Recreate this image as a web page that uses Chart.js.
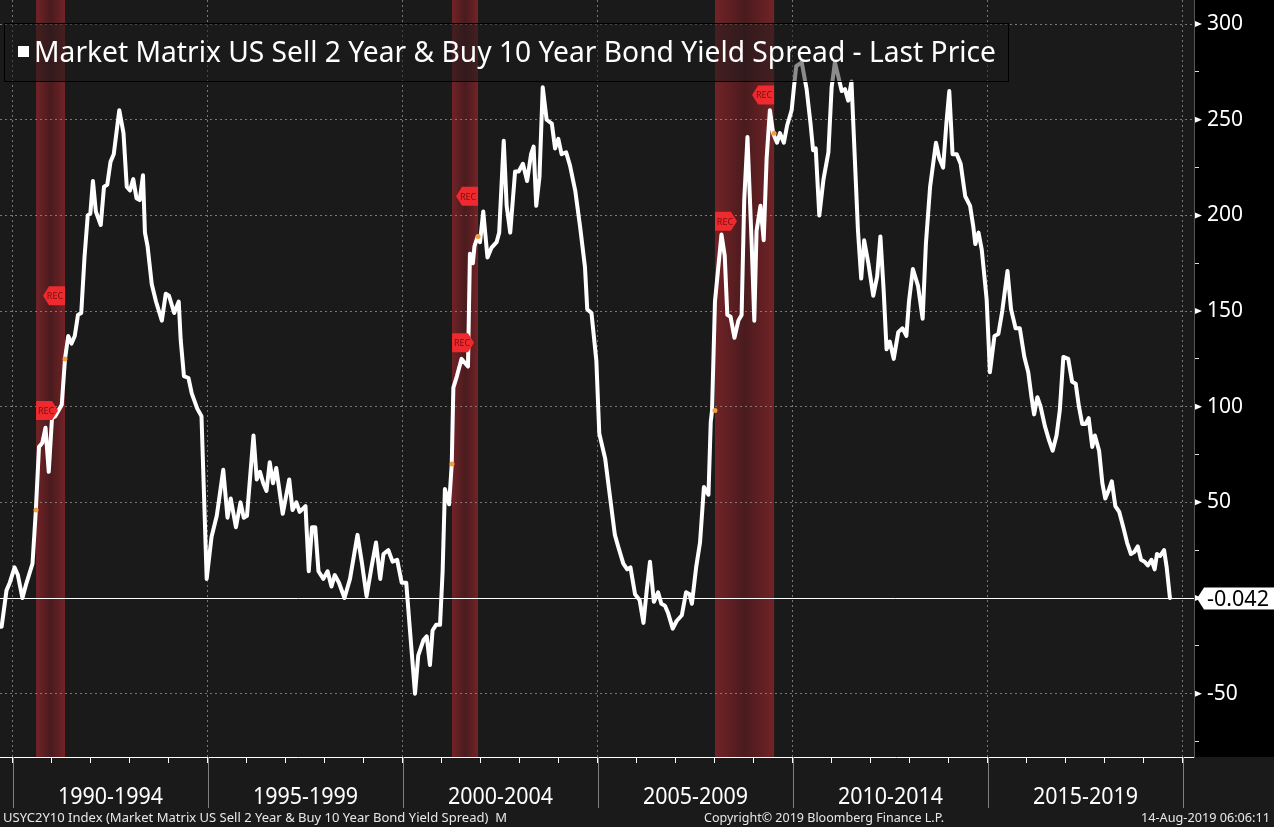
<!DOCTYPE html>
<html>
<head>
<meta charset="utf-8">
<script src="https://cdn.jsdelivr.net/npm/chart.js@4.4.1/dist/chart.umd.min.js"></script>
<style>
  html, body { margin: 0; padding: 0; background: #1a1a1a; }
  canvas { display: block; }
</style>
</head>
<body>
<canvas id="myChart" width="1274" height="827"></canvas>
<script>
// x = months counted from Jan 1990 (0 = Jan 1990)
const months = [
  -4, -3.5, -2, -1, 0.5, 1.5, 2.9, 4, 6, 7,
  8, 9, 10, 11, 12, 13, 14, 15, 16, 17,
  18, 19, 20, 21, 22, 23, 23.8, 24.6, 25.5, 27,
  28, 29, 30, 31, 32.7, 34, 35, 36, 37, 38,
  39, 40, 40.6, 41.4, 42.7, 44, 45.8, 47, 48, 49.6,
  51, 51.6, 52.6, 54, 55, 56.7, 58, 59.6,
  61.1, 62.7, 64.7, 66, 67, 68.6, 70, 71, 72, 74,
  75, 76, 77, 78, 79, 80, 81, 82, 83, 85,
  86, 87.2, 88.2, 90, 91, 92, 93, 94, 95.5, 96.8,
  98, 99, 100.3, 102, 103.7, 106, 107.4, 108.8, 110.3, 111.7,
  113, 114, 115.5, 116.8, 118.2, 119.6, 121, 122.2, 123.7,
  124.7, 126.3, 127.3, 128.3, 129.1, 130.2, 131.4, 132.2, 132.9, 134.2,
  135, 135.5, 136.6, 138, 139, 140, 140.6, 141.5, 142, 143,
  143.7, 144.7, 146, 147.2, 148.8, 149.6, 151, 151.9, 153, 154.5,
  155.6, 156.9, 158.2, 159.4, 160.2, 161, 162, 163, 164.2, 165.8,
  166.8, 167.8, 168.8, 170.2, 171.4, 173, 174.5, 176, 176.7, 178,
  179.5, 180.4, 182.2, 183.7, 185.2, 186.2, 187.8, 189, 190, 191.4,
  192.8, 194, 195, 196, 197.2, 198.5, 199.5, 200.6, 201.6, 203,
  204.2, 205.8, 207.1, 208.2, 208.9, 210.2, 211.4, 212.6, 214, 214.7,
  215.1, 216, 218, 219, 219.8, 220.8, 222, 223.2, 224.2, 225,
  226, 227.3, 228.1, 228.8, 230, 231, 231.9, 232.9, 233.9, 235.1,
  236, 237.2, 238.2, 239.6, 240.3, 241, 242.7,
  244.2, 245.4, 246.2, 247, 248.1, 249.4, 250.9, 251.9, 252.9, 253.9,
  255, 256, 257, 258, 259, 260, 261, 261.9, 263.2, 264.7,
  265.9, 266.9, 267.9, 268.8, 269.8, 271, 272.4, 273.7, 274.9, 275.7,
  276.9, 278.5, 279.9, 280.9, 282.2, 284, 285, 286.2, 287.2, 288.1,
  289.1, 290.4, 291.6, 293, 294.5, 295.5, 296.1, 297.1, 298.1, 299.6,
  300.6,
  302, 303.2, 304.4, 306, 307.1, 308.5, 309.8, 311.2, 312.4, 313.4,
  314.2, 315.2, 316.2, 317.5, 318.7, 319.9, 321.1, 322.1, 323.2, 324.7,
  325.9, 327, 328, 329, 330, 331, 332.1, 332.9, 334.2, 335.2,
  336.1, 337.3, 338.1, 339.2, 340.4, 341.8, 342.8, 344, 345, 346.1,
  347.1, 348.2, 349.2, 350.3, 351.3, 352, 353, 354.2, 355, 356
]

// 2s10s spread in basis points
const spread = [
  -15, -15, 4, 8, 16, 12, 0, 7, 18, 45,
  79, 81, 89, 66, 94, 95, 98, 101, 125, 137,
  133, 137, 148, 149, 178, 200, 201, 218, 202, 195,
  215, 216, 228, 232, 255, 243, 215, 213, 219, 209,
  208, 221, 191, 184, 164, 155, 145, 159, 158, 149,
  155, 135, 116, 115, 107, 99, 95, 10,
  32, 43, 67, 42, 52, 37, 50, 42, 43, 85,
  62, 66, 60, 56, 71, 60, 68, 56, 44, 62,
  46, 50, 45, 48, 14, 37, 37, 14, 10, 14,
  6, 12, 8, 0, 10, 33, 18, 1, 16, 29,
  10, 23, 25, 19, 20, 8, 8, -18, -50,
  -30, -22, -20, -35, -17, -14, -14, 14, 57, 49,
  70, 110, 116, 125, 123, 121, 180, 175, 184, 189,
  186, 202, 178, 183, 186, 191, 239, 205, 191, 223,
  223, 227, 218, 232, 236, 205, 220, 267, 250, 248,
  235, 240, 232, 233, 226, 213, 194, 173, 151, 149,
  124, 86, 73, 53, 33, 27, 18, 15, 16, 2,
  -1, -13, 4, 19, -2, 3, -3, -4, -8, -16,
  -12, -9, 3, 2, -3, 16, 29, 58, 54, 92,
  98, 155, 190, 179, 148, 147, 136, 145, 148, 208,
  241, 185, 145, 192, 205, 187, 230, 255, 243, 238,
  243, 238, 247, 255, 267, 278, 280,
  266, 248, 234, 235, 200, 219, 233, 267, 280, 273,
  265, 266, 260, 270, 231, 192, 167, 187, 175, 158,
  168, 189, 161, 130, 134, 125, 139, 141, 137, 155,
  172, 163, 146, 185, 215, 238, 230, 225, 248, 265,
  232, 232, 227, 210, 205, 194, 185, 191, 182, 156,
  118,
  137, 138, 150, 171, 151, 141, 141, 126, 118, 105,
  96, 105, 100, 90, 83, 77, 85, 98, 126, 125,
  113, 112, 100, 91, 91, 94, 79, 85, 77, 60,
  52, 57, 61, 48, 45, 36, 29, 23, 24, 27,
  20, 19, 17, 20, 15, 23, 22, 25, 16, -0.042
]

const lastPrice = -0.042

// recessions (months from Jan 1990) and the REC flags / dots
const recStart = [7.1, 135.1, 216]
const recEnd = [16, 143.1, 234.2]
const recStartFlag = [98, 133.5, 197]
const recEndFlag = [158, 210, 263]
const recStartDot = [46, 70, 98]
const recEndDot = [125, 189, 243]

const periods = ['1990-1994', '1995-1999', '2000-2004', '2005-2009', '2010-2014', '2015-2019']
const periodStarts = [0, 60, 120, 180, 240, 300, 360]
const yearTicks = [0, 12, 24, 36, 48, 60, 72, 84, 96, 108, 120, 132, 144, 156, 168, 180,
  192, 204, 216, 228, 240, 252, 264, 276, 288, 300, 312, 324, 336, 348, 360]
const yTicks = [-75, -50, -25, 0, 25, 50, 75, 100, 125, 150, 175, 200, 225, 250, 275, 300]
const yLabels = [-50, 0, 50, 100, 150, 200, 250, 300]

const titleText = 'Market Matrix US Sell 2 Year & Buy 10 Year Bond Yield Spread - Last Price'
const footLeft = 'USYC2Y10 Index (Market Matrix US Sell 2 Year & Buy 10 Year Bond Yield Spread)  M'
const footMid = 'Copyright\u00a9 2019 Bloomberg Finance L.P.'
const footRight = '14-Aug-2019 06:06:11'

const FONT = '"Noto Sans", "Open Sans", sans-serif'
const gridColor = 'rgba(150,150,150,0.75)'

// draws text at a font size, squeezed horizontally to a given width
function fitText(ctx, text, x, y, width, size, align) {
  ctx.font = size + 'px ' + FONT
  let w = ctx.measureText(text).width
  let k = width / w
  ctx.save()
  ctx.textAlign = 'left'
  let left = x
  if (align === 'right') left = x - width
  if (align === 'center') left = x - width / 2
  ctx.translate(left, y)
  ctx.scale(k, 1)
  ctx.fillText(text, 0, 0)
  ctx.restore()
}

function drawFlag(ctx, px, py, dir) {
  let w = 22, h = 19, p = 6
  ctx.beginPath()
  if (dir > 0) {
    ctx.moveTo(px, py - h / 2)
    ctx.lineTo(px + w - p, py - h / 2)
    ctx.lineTo(px + w, py)
    ctx.lineTo(px + w - p, py + h / 2)
    ctx.lineTo(px, py + h / 2)
  } else {
    ctx.moveTo(px, py - h / 2)
    ctx.lineTo(px - w + p, py - h / 2)
    ctx.lineTo(px - w, py)
    ctx.lineTo(px - w + p, py + h / 2)
    ctx.lineTo(px, py + h / 2)
  }
  ctx.closePath()
  ctx.fillStyle = '#ee2a2e'
  ctx.fill()
  ctx.fillStyle = '#7c0d0f'
  ctx.font = '9px ' + FONT
  ctx.textAlign = 'center'
  ctx.textBaseline = 'middle'
  let cx = dir > 0 ? px + (w - p) / 2 + 2 : px - (w - p) / 2 - 2
  ctx.fillText('REC', cx, py + 1)
}

function noPadding(s) {
  s.paddingTop = 0
  s.paddingBottom = 0
  s.paddingLeft = 0
  s.paddingRight = 0
}

const bloomberg = {
  id: 'bloomberg',
  beforeDraw(chart) {
    const { ctx, chartArea: a, scales: { x } } = chart
    ctx.save()
    ctx.fillStyle = '#1a1a1a'
    ctx.fillRect(0, 0, chart.width, chart.height)
    ctx.fillStyle = '#000'
    ctx.fillRect(a.right, 0, chart.width - a.right, a.bottom)
    recStart.forEach((s, i) => {
      let x0 = x.getPixelForValue(s)
      let x1 = x.getPixelForValue(recEnd[i])
      let g = ctx.createLinearGradient(x0, 0, x1, 0)
      g.addColorStop(0, '#722327')
      g.addColorStop(0.5, '#4a1b1e')
      g.addColorStop(1, '#722327')
      ctx.fillStyle = g
      ctx.fillRect(x0, a.top, x1 - x0, a.bottom - a.top)
    })
    ctx.restore()
  },
  afterDatasetsDraw(chart) {
    const { ctx, chartArea: a, scales: { x, y } } = chart
    ctx.save()

    // last price line
    let py = Math.round(y.getPixelForValue(lastPrice)) + 0.5
    ctx.strokeStyle = '#fff'
    ctx.lineWidth = 1
    ctx.beginPath()
    ctx.moveTo(a.left, py)
    ctx.lineTo(a.right, py)
    ctx.stroke()

    // REC flags
    recStart.forEach((s, i) => {
      drawFlag(ctx, x.getPixelForValue(s), y.getPixelForValue(recStartFlag[i]), 1)
      drawFlag(ctx, x.getPixelForValue(recEnd[i]), y.getPixelForValue(recEndFlag[i]), -1)
    })

    // legend box
    ctx.fillStyle = 'rgba(26,26,26,0.5)'
    ctx.fillRect(4, 23, 1004, 58)
    ctx.strokeStyle = '#000'
    ctx.strokeRect(4.5, 23.5, 1004, 58)
    ctx.fillStyle = '#fff'
    ctx.fillRect(18, 46, 11, 11)
    ctx.textBaseline = 'alphabetic'
    fitText(ctx, titleText, 34, 62, 962, 29)

    // price box on the right axis
    ctx.fillStyle = '#fff'
    ctx.beginPath()
    ctx.moveTo(a.right + 3, py)
    ctx.lineTo(a.right + 10, py - 11)
    ctx.lineTo(chart.width, py - 11)
    ctx.lineTo(chart.width, py + 11)
    ctx.lineTo(a.right + 10, py + 11)
    ctx.closePath()
    ctx.fill()
    ctx.fillStyle = '#000'
    ctx.textBaseline = 'middle'
    fitText(ctx, String(lastPrice), a.right + 13, py + 1, 62, 22)

    // little arrows on major y ticks
    ctx.fillStyle = '#fff'
    yLabels.forEach(v => {
      let ty = y.getPixelForValue(v)
      ctx.beginPath()
      ctx.moveTo(a.right + 1, ty - 3)
      ctx.lineTo(a.right + 8, ty)
      ctx.lineTo(a.right + 1, ty + 3)
      ctx.closePath()
      ctx.fill()
    })

    // period separators and labels under the axis
    ctx.strokeStyle = '#808080'
    periodStarts.forEach(v => {
      let sx = Math.round(x.getPixelForValue(v)) + 0.5
      ctx.beginPath()
      ctx.moveTo(sx, a.bottom)
      ctx.lineTo(sx, a.bottom + 51)
      ctx.stroke()
    })
    ctx.fillStyle = '#fff'
    ctx.textBaseline = 'middle'
    periods.forEach((p, i) => {
      let cx = x.getPixelForValue(periodStarts[i] + 30)
      fitText(ctx, p, cx, a.bottom + 40, 105, 24, 'center')
    })

    // footer
    ctx.fillStyle = '#e8e8e8'
    ctx.textBaseline = 'middle'
    fitText(ctx, footLeft, 3, 818, 504, 13)
    fitText(ctx, footMid, 704, 818, 240, 13)
    fitText(ctx, footRight, 1270, 818, 129, 13, 'right')
    ctx.restore()
  }
}

let ctx = document.getElementById('myChart').getContext('2d')
let chart = new Chart(ctx, {
  data: {
    datasets: [{
      type: 'line',
      label: 'dots',
      order: 1,
      data: recStart.map((s, i) => ({ x: s, y: recStartDot[i] }))
        .concat(recEnd.map((s, i) => ({ x: s, y: recEndDot[i] }))),
      showLine: false,
      pointRadius: 2.5,
      pointHoverRadius: 0,
      pointBackgroundColor: '#f0a040',
      pointBorderWidth: 0
    }, {
      type: 'line',
      label: 'USYC2Y10',
      order: 2,
      data: months.map((m, i) => ({ x: m, y: spread[i] })),
      borderColor: '#ffffff',
      borderWidth: 4,
      borderJoinStyle: 'round',
      borderCapStyle: 'round',
      pointRadius: 0,
      tension: 0,
      fill: false
    }]
  },
  options: {
    responsive: false,
    devicePixelRatio: 1,
    animation: false,
    layout: { padding: 0, autoPadding: false },
    plugins: { legend: { display: false }, tooltip: { enabled: false } },
    scales: {
      x: {
        type: 'linear',
        min: -4,
        max: 363.4,
        afterBuildTicks: s => { s.ticks = yearTicks.map(v => ({ value: v })) },
        afterFit: s => { s.height = 70; noPadding(s) },
        ticks: { display: false },
        grid: {
          color: c => (c.tick && c.tick.value % 60 === 0) ? gridColor : 'transparent',
          tickColor: '#ffffff',
          tickLength: 6,
          lineWidth: 1
        },
        border: { display: true, color: '#ffffff', width: 1, dash: [2, 3] }
      },
      y: {
        type: 'linear',
        position: 'right',
        min: -83.1,
        max: 312.6,
        afterBuildTicks: s => { s.ticks = yTicks.map(v => ({ value: v })) },
        afterFit: s => { s.width = 80; noPadding(s) },
        ticks: {
          color: '#ffffff',
          font: { family: FONT, size: 21 },
          padding: 8,
          autoSkip: false,
          callback: v => yLabels.includes(v) ? String(v) : ''
        },
        grid: {
          color: c => (c.tick && c.tick.value % 50 === 0) ? gridColor : 'transparent',
          tickColor: '#dddddd',
          tickLength: 5,
          lineWidth: 1
        },
        border: { display: true, color: '#555555', width: 1, dash: [2, 3] }
      }
    }
  },
  plugins: [bloomberg]
})
</script>
</body>
</html>
